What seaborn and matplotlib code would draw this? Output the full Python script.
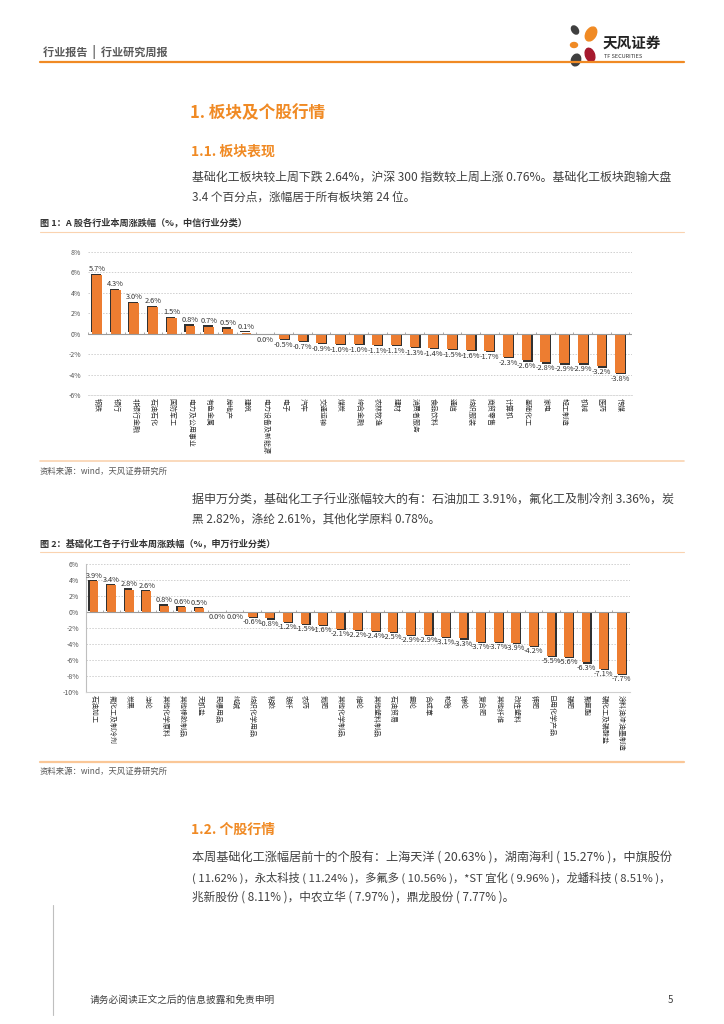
import numpy as np
import pandas as pd
import matplotlib
matplotlib.use("Agg")
import matplotlib.pyplot as plt
import matplotlib.patheffects as pe
from matplotlib.patches import Ellipse
import seaborn as sns

# ---------------- data ----------------
citic_names = ["钢铁", "银行", "非银行金融", "石油石化", "国防军工", "电力及公用事业",
               "有色金属", "房地产", "建筑", "电力设备及新能源", "电子", "汽车",
               "交通运输", "煤炭", "综合金融", "农林牧渔", "建材", "消费者服务",
               "食品饮料", "通信", "纺织服装", "商贸零售", "计算机", "基础化工",
               "家电", "轻工制造", "机械", "医药", "传媒"]
citic_vals = [5.7, 4.3, 3.0, 2.6, 1.5, 0.8, 0.7, 0.5, 0.1, -0.04, -0.5, -0.7,
              -0.9, -1.0, -1.0, -1.1, -1.1, -1.3, -1.4, -1.5, -1.6, -1.7, -2.3,
              -2.6, -2.8, -2.9, -2.9, -3.2, -3.8]
citic_yticks = [8, 6, 4, 2, 0, -2, -4, -6]

sw_names = ["石油加工", "氟化工及制冷剂", "炭黑", "涤纶", "其他化学原料", "其他橡胶制品",
            "无机盐", "民爆用品", "纯碱", "纺织化学用品", "粘胶", "玻纤", "农药",
            "氮肥", "其他化学制品", "维纶", "其他塑料制品", "石油贸易", "氨纶",
            "合成革", "轮胎", "锦纶", "复合肥", "其他纤维", "改性塑料", "钾肥",
            "日用化学产品", "磷肥", "聚氨酯", "磷化工及磷酸盐", "涂料油漆油墨制造"]
sw_vals = [3.9, 3.4, 2.8, 2.6, 0.8, 0.6, 0.5, -0.03, -0.03, -0.6, -0.8, -1.2,
           -1.5, -1.6, -2.1, -2.2, -2.4, -2.5, -2.9, -2.9, -3.1, -3.3, -3.7,
           -3.7, -3.9, -4.2, -5.5, -5.6, -6.3, -7.1, -7.7]
sw_yticks = [6, 4, 2, 0, -2, -4, -6, -8, -10]

W, H = 724, 1024
ORANGE = "#ED7D31"
HEAD_ORANGE = "#F08A24"
TXT = "#404040"

sns.set_style("white")
plt.rcParams["font.family"] = ["Noto Sans CJK SC", "DejaVu Sans"]
plt.rcParams["axes.unicode_minus"] = False

fig = plt.figure(figsize=(W / 100, H / 100), dpi=100)
renderer = fig.canvas.get_renderer()


def fx(x):
    return x / W


def fy(y):
    return 1 - y / H


def ptext(x, y, s, size=8.5, color=TXT, weight="normal", ha="left", fit=None):
    t = fig.text(fx(x), fy(y), s, fontsize=size, color=color, fontweight=weight,
                 ha=ha, va="center")
    if fit:
        # shrink/grow so the line fills the text column like the justified original
        w = t.get_window_extent(renderer).width
        t.set_fontsize(size * fit / w)
    return t


def hline(x0, x1, y, color, lw):
    fig.add_artist(plt.Line2D([fx(x0), fx(x1)], [fy(y), fy(y)], color=color, lw=lw))


def bar_chart(box, names, vals, yticks, xlim, width, left_spine, label_off):
    x0, y0, x1, y1 = box
    ax = fig.add_axes([fx(x0), fy(y1), (x1 - x0) / W, (y1 - y0) / H])
    df = pd.DataFrame({"name": names, "val": vals})
    sns.barplot(data=df, x="name", y="val", color=ORANGE, saturation=1,
                width=width, ax=ax, linewidth=0)
    for p, v in zip(ax.patches, vals):
        off = (-0.9, 0.9) if v >= 0 else (0.9, -0.9)
        p.set_path_effects([pe.SimplePatchShadow(offset=off, shadow_rgbFace="#1a1a1a", alpha=0.9),
                            pe.Normal()])
    ax.set_ylim(min(yticks), max(yticks))
    ax.set_xlim(*xlim)
    ax.set_yticks(yticks)
    ax.set_yticklabels([f"{t}%" for t in yticks], fontsize=5, color="#555555")
    for t in yticks:
        if t != 0 and t != min(yticks):
            ax.axhline(t, color="#CFCFCF", lw=0.7, ls=(0, (1.5, 1.5)), zorder=0)
    ax.axhline(0, color="#9A9A9A", lw=0.8, zorder=1)
    n = len(names)
    ax.vlines(np.arange(-0.5, n, 1), 0, (max(yticks) - min(yticks)) * 0.012,
              color="#9A9A9A", lw=0.6)
    for i, v in enumerate(vals):
        ax.text(i, v + (label_off if v >= 0 else -label_off), f"{v:.1f}%".replace("-0.0", "0.0"),
                ha="center", va="bottom" if v >= 0 else "top", fontsize=5.3, color="#333333")
    ax.set_xlabel("")
    ax.set_ylabel("")
    ax.set_xticks(range(n))
    ax.set_xticklabels(names, rotation=-90, fontsize=5, color="#333333")
    ax.tick_params(axis="x", length=0, pad=2)
    ax.tick_params(axis="y", length=0, pad=5)
    for s in ["top", "right"]:
        ax.spines[s].set_visible(False)
    if left_spine:
        ax.spines["left"].set_color("#BFBFBF")
        ax.spines["left"].set_linewidth(0.8)
        ax.spines["bottom"].set_color("#D0D0D0")
        ax.spines["bottom"].set_linewidth(0.8)
    else:
        ax.spines["left"].set_visible(False)
        ax.spines["bottom"].set_color("#D9D9D9")
        ax.spines["bottom"].set_linewidth(0.7)
        ax.spines["bottom"].set_linestyle((0, (1.5, 1.5)))
    return ax


# ---------------- header ----------------
ptext(43, 52, "行业报告  |  行业研究周报", size=8, color="#595959", weight="bold")
hline(40, 684, 62, HEAD_ORANGE, 1.6)

logo = fig.add_axes([fx(564), fy(68), 40 / W, 44 / H])
logo.set_xlim(0, 40)
logo.set_ylim(0, 44)
logo.axis("off")
logo.add_patch(Ellipse((27, 34), 10, 15, angle=-30, color="#F08A24"))
logo.add_patch(Ellipse((11, 38), 6, 9, angle=35, color="#3F3F3F"))
logo.add_patch(Ellipse((10, 23), 7, 5, angle=0, color="#F08A24"))
logo.add_patch(Ellipse((26, 13), 9, 14, angle=20, color="#A6192E"))
logo.add_patch(Ellipse((12, 8), 9, 12, angle=-20, color="#3F3F3F"))
ptext(603, 43, "天风证券", size=10.5, color="#222222", weight="bold")
ptext(604, 57, "TF SECURITIES", size=4, color="#333333")

# ---------------- section 1 ----------------
ptext(190, 113, "1. 板块及个股行情", size=12, color=HEAD_ORANGE, weight="bold")
ptext(191, 152, "1.1. 板块表现", size=10, color=HEAD_ORANGE, weight="bold")
ptext(192, 177, "基础化工板块较上周下跌 2.64%，沪深 300 指数较上周上涨 0.76%。基础化工板块跑输大盘",
      size=8.4, fit=480)
ptext(192, 197, "3.4 个百分点，涨幅居于所有板块第 24 位。", size=8.4)

ptext(40, 222, "图 1：A 股各行业本周涨跌幅（%，中信行业分类）", size=6.6, color="#333333", weight="bold")
hline(40, 684, 232, "#FAD3B0", 0.8)
bar_chart((88, 252, 632, 395), citic_names, citic_vals, citic_yticks,
          (-0.48, 28.64), 0.52, False, 0.2)
hline(40, 684, 461, "#FAD3B0", 1.2)
ptext(40, 471, "资料来源：wind，天风证券研究所", size=6, color="#595959")

ptext(192, 500, "据申万分类，基础化工子行业涨幅较大的有：石油加工 3.91%，氟化工及制冷剂 3.36%，炭",
      size=8.4, fit=480)
ptext(192, 519, "黑 2.82%，涤纶 2.61%，其他化学原料 0.78%。", size=8.4)

ptext(40, 543, "图 2：基础化工各子行业本周涨跌幅（%，申万行业分类）", size=6.6, color="#333333", weight="bold")
hline(40, 684, 552, "#FAD3B0", 0.8)
bar_chart((86, 564, 630, 692), sw_names, sw_vals, sw_yticks,
          (-0.46, 30.5), 0.5, True, 0.15)
hline(40, 684, 762, "#FAC797", 1.6)
ptext(40, 771, "资料来源：wind，天风证券研究所", size=6, color="#595959")

# ---------------- section 1.2 ----------------
ptext(191, 830, "1.2. 个股行情", size=10, color=HEAD_ORANGE, weight="bold")
ptext(192, 858, "本周基础化工涨幅居前十的个股有：上海天洋 ( 20.63% )，湖南海利 ( 15.27% )，中旗股份",
      size=8.4, fit=480)
ptext(192, 878, "( 11.62% )，永太科技 ( 11.24% )，多氟多 ( 10.56% )，*ST 宜化 ( 9.96% )，龙蟠科技 ( 8.51% )，",
      size=8.4, fit=480)
ptext(192, 897, "兆新股份 ( 8.11% )，中农立华 ( 7.97% )，鼎龙股份 ( 7.77% )。", size=8.4)

# ---------------- footer ----------------
fig.add_artist(plt.Line2D([fx(53), fx(53)], [fy(905), fy(1015)], color="#BFBFBF", lw=0.8))
ptext(90, 1000, "请务必阅读正文之后的信息披露和免责申明", size=7, color="#404040")
ptext(670, 1000, "5", size=7, color="#404040", ha="center")

fig.savefig("out.png", dpi=100)
